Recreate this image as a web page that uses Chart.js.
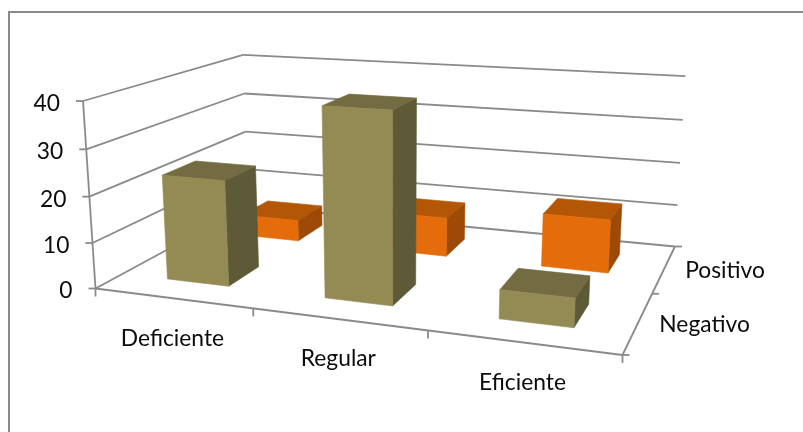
<!DOCTYPE html>
<html>
<head>
<meta charset="utf-8">
<style>
  html, body { margin: 0; padding: 0; background: #fff; }
  canvas { display: block; }
</style>
<script src="https://cdn.jsdelivr.net/npm/chart.js@4/dist/chart.umd.js"></script>
</head>
<body>
<canvas id="chart" width="803" height="432"></canvas>
<script>
const categories = ['Deficiente', 'Regular', 'Eficiente'];
const rows = ['Negativo', 'Positivo'];
const negativo = [23, 40, 6];
const positivo = [5, 9, 12];

const axisMax = 40;
const axisStep = 10;
const gapShare = 0.4;

const lineColor = '#8a8a8a';
const textColor = '#0c0c0c';
const fontSpec = '22.8px Lato, Carlito, sans-serif';
const oliveFaces = { front: '#948a54', top: '#736b42', side: '#5e5a38' };
const orangeFaces = { front: '#e46c0a', top: '#b35606', side: '#9c4a05' };

// Perspective view of the unit box: origin, end of each axis and depth weights.
const view = {
  o: [95.5, 288.5], x: [622.5, 355], z: [248, 206], y: [83, 101],
  wx: -0.1455, wz: 0.2522, wy: -0.04
};

function project(u, v, w) {
  const { o, x, y, z, wx, wy, wz } = view;
  const d = 1 + wx * u + wz * v + wy * w;
  const at = k => (o[k]
    + u * (x[k] * (1 + wx) - o[k])
    + v * (z[k] * (1 + wz) - o[k])
    + w * (y[k] * (1 + wy) - o[k])) / d;
  return [at(0), at(1)];
}

function poly(ctx, pts, fill) {
  ctx.beginPath();
  pts.forEach((p, i) => i ? ctx.lineTo(p[0], p[1]) : ctx.moveTo(p[0], p[1]));
  ctx.closePath();
  ctx.fillStyle = fill;
  ctx.fill();
  ctx.strokeStyle = fill;
  ctx.lineWidth = 0.6;
  ctx.stroke();
}

function segment(ctx, a, b) {
  ctx.beginPath();
  ctx.moveTo(a[0], a[1]);
  ctx.lineTo(b[0], b[1]);
  ctx.stroke();
}

// Bar controller that paints every value as a box in the projected space.
class Box3dController extends Chart.BarController {
  draw() {
    const meta = this._cachedMeta;
    const ctx = this.chart.ctx;
    const xs = meta.xScale, ys = meta.yScale, zs = this.chart.scales.z;
    const faces = this.getDataset().faces;
    const v = (zs.getPixelForValue(this.index) - zs.left) / zs.width;
    const halfU = gapShare / categories.length / 2;
    const halfV = gapShare / rows.length / 2;
    meta.data.forEach((_, i) => {
      const parsed = this.getParsed(i);
      const u = (xs.getPixelForValue(i) - xs.left) / xs.width;
      const w = (ys.bottom - ys.getPixelForValue(parsed.y)) / ys.height;
      const u0 = u - halfU, u1 = u + halfU, v0 = v - halfV, v1 = v + halfV;
      poly(ctx, [project(u1, v0, 0), project(u1, v1, 0), project(u1, v1, w), project(u1, v0, w)], faces.side);
      poly(ctx, [project(u0, v0, w), project(u1, v0, w), project(u1, v1, w), project(u0, v1, w)], faces.top);
      poly(ctx, [project(u0, v0, 0), project(u1, v0, 0), project(u1, v0, w), project(u0, v0, w)], faces.front);
    });
  }
}
Box3dController.id = 'box3d';
Box3dController.defaults = Chart.BarController.defaults;
Chart.register(Box3dController);

// Top and left frame edges, walls, floor, tick marks and axis labels.
const frame3d = {
  id: 'frame3d',
  beforeDatasetsDraw(chart) {
    const ctx = chart.ctx;
    const { x: xs, y: ys, z: zs } = chart.scales;
    ctx.save();
    ctx.fillStyle = '#fff';
    ctx.fillRect(0, 0, chart.width, chart.height);
    ctx.strokeStyle = lineColor;
    ctx.lineWidth = 2;
    segment(ctx, [9, chart.height], [9, 12]);
    segment(ctx, [8, 12], [chart.width, 12]);

    ctx.lineWidth = 1.8;
    ys.ticks.forEach(t => {
      const w = (ys.bottom - ys.getPixelForValue(t.value)) / ys.height;
      const a = project(0, 0, w);
      segment(ctx, a, project(0, 1, w));
      segment(ctx, project(0, 1, w), project(1, 1, w));
      segment(ctx, a, [a[0] - 7, a[1]]);
    });
    segment(ctx, project(0, 0, 0), project(0, 0, 1));
    segment(ctx, project(0, 0, 0), project(1, 0, 0));
    segment(ctx, project(1, 0, 0), project(1, 1, 0));

    for (let i = 0; i <= categories.length; i++) {
      const a = project(i / categories.length, 0, 0);
      segment(ctx, a, [a[0], a[1] + 8]);
    }
    for (let i = 0; i <= rows.length; i++) {
      const a = project(1, i / rows.length, 0);
      segment(ctx, a, [a[0] + 7, a[1]]);
    }

    ctx.fillStyle = textColor;
    ctx.font = fontSpec;
    ctx.textBaseline = 'middle';
    ctx.textAlign = 'right';
    ys.ticks.forEach(t => {
      const w = (ys.bottom - ys.getPixelForValue(t.value)) / ys.height;
      const a = project(0, 0, w);
      ctx.fillText(t.label, a[0] - 23, a[1] + 2.5);
    });
    ctx.textAlign = 'center';
    xs.ticks.forEach((t, i) => {
      const a = project((xs.getPixelForValue(i) - xs.left) / xs.width, 0, 0);
      ctx.fillText(t.label, a[0], a[1] + 40);
    });
    ctx.textAlign = 'left';
    zs.ticks.forEach((t, i) => {
      const a = project(1, (zs.getPixelForValue(i) - zs.left) / zs.width, 0);
      ctx.fillText(t.label, a[0] + 21, a[1] + 2);
    });
    ctx.restore();
  }
};

new Chart(document.getElementById('chart'), {
  type: 'box3d',
  data: {
    labels: categories,
    datasets: [
      { label: rows[0], data: negativo, faces: oliveFaces },
      { label: rows[1], data: positivo, faces: orangeFaces }
    ]
  },
  options: {
    responsive: false,
    animation: false,
    layout: { padding: 0 },
    plugins: { legend: { display: false }, tooltip: { enabled: false } },
    scales: {
      x: { type: 'category', offset: true, display: false, ticks: { autoSkip: false } },
      z: { type: 'category', axis: 'x', labels: rows, offset: true, display: false, ticks: { autoSkip: false } },
      y: { type: 'linear', min: 0, max: axisMax, display: false, ticks: { stepSize: axisStep } }
    }
  },
  plugins: [frame3d]
});
</script>
</body>
</html>
